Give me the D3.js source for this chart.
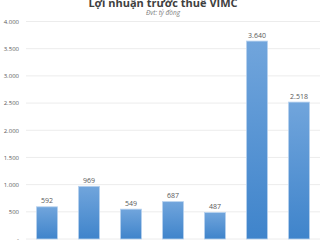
<!DOCTYPE html>
<html>
<head>
<meta charset="utf-8">
<script src="https://cdn.jsdelivr.net/npm/d3@7"></script>
<style>
  body { margin: 0; background: #fff; }
  svg { display: block; font-family: "Open Sans", "Noto Sans", sans-serif; }
</style>
</head>
<body>
<script>
// data
var years = ["2016", "2017", "2018", "2019", "2020", "2021", "6T2022"];
var profit = [592, 969, 549, 687, 487, 3640, 2518];
var yTicks = [0, 500, 1000, 1500, 2000, 2500, 3000, 3500, 4000];

var width = 326, height = 245;
var margin = {top: 21.5, right: 6, bottom: 6, left: 26};

var svg = d3.select("body").append("svg")
    .attr("width", width)
    .attr("height", height);

var fmt = function(v) { return v == 0 ? "-" : d3.format(",")(v).replace(/,/g, "."); };

var x = d3.scaleBand()
    .domain(years)
    .range([margin.left, width - margin.right])
    .paddingInner(0.5)
    .paddingOuter(0.25);

var y = d3.scaleLinear()
    .domain([0, 4000])
    .range([height - margin.bottom, margin.top]);

// gradient for the bars
var grad = svg.append("defs").append("linearGradient")
    .attr("id", "barGrad")
    .attr("x1", 0).attr("y1", 0).attr("x2", 0).attr("y2", 1);
grad.append("stop").attr("offset", "0%").attr("stop-color", "#71a5dc");
grad.append("stop").attr("offset", "100%").attr("stop-color", "#3f84cb");

// title
svg.append("text")
    .attr("x", width / 2)
    .attr("y", 6.5)
    .attr("text-anchor", "middle")
    .style("font-size", "11px")
    .style("font-weight", "bold")
    .style("fill", "#404040")
    .text("Lợi nhuận trước thuế VIMC");

svg.append("text")
    .attr("x", width / 2)
    .attr("y", 15)
    .attr("text-anchor", "middle")
    .style("font-size", "6.5px")
    .style("font-style", "italic")
    .style("fill", "#7f7f7f")
    .text("Đvt: tỷ đồng");

// grid lines
svg.append("g")
    .selectAll("line")
    .data(yTicks)
    .enter().append("line")
    .attr("x1", margin.left)
    .attr("x2", width - margin.right)
    .attr("y1", function(d) { return y(d); })
    .attr("y2", function(d) { return y(d); })
    .style("stroke", "#ececec")
    .style("stroke-width", 1);

// y axis labels
var yAxis = svg.append("g")
    .attr("transform", "translate(" + (margin.left - 7) + ",0)")
    .call(d3.axisLeft(y).tickValues(yTicks).tickSize(0).tickPadding(0).tickFormat(fmt));
yAxis.select(".domain").remove();
yAxis.selectAll("text")
    .style("font-size", "6px")
    .style("fill", "#595959")
    .style("font-family", "'Open Sans', sans-serif");

// bars
svg.append("g")
    .selectAll("rect")
    .data(profit)
    .enter().append("rect")
    .attr("x", function(d, i) { return x(years[i]); })
    .attr("y", function(d) { return y(d); })
    .attr("width", x.bandwidth())
    .attr("height", function(d) { return y(0) - y(d); })
    .style("fill", "url(#barGrad)")
    .style("stroke", "#b7d1ee")
    .style("stroke-width", 0.8);

// value labels
svg.append("g")
    .selectAll("text")
    .data(profit)
    .enter().append("text")
    .attr("x", function(d, i) { return x(years[i]) + x.bandwidth() / 2; })
    .attr("y", function(d) { return y(d) - 3.5; })
    .attr("text-anchor", "middle")
    .style("font-size", "7px")
    .style("fill", "#595959")
    .text(fmt);

// x axis labels (cut off at the bottom)
var xAxis = svg.append("g")
    .attr("transform", "translate(0," + y(0) + ")")
    .call(d3.axisBottom(x).tickSize(0).tickPadding(8));
xAxis.select(".domain").remove();
xAxis.selectAll("text")
    .style("font-size", "6.5px")
    .style("fill", "#595959")
    .style("font-family", "'Open Sans', sans-serif");
</script>
</body>
</html>
